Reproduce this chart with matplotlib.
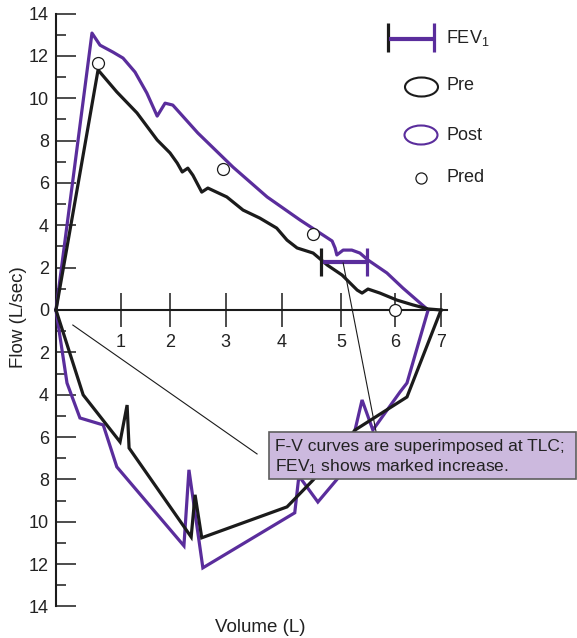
import numpy as np
import matplotlib
matplotlib.use("Agg")
import matplotlib.pyplot as plt
from matplotlib.patches import Ellipse, Rectangle
from matplotlib.lines import Line2D

plt.rcParams['font.family'] = ['Liberation Sans', 'DejaVu Sans']
plt.rcParams['mathtext.fontset'] = 'custom'
plt.rcParams['mathtext.rm'] = 'Liberation Sans'
plt.rcParams['mathtext.it'] = 'Liberation Sans:italic'
plt.rcParams['mathtext.bf'] = 'Liberation Sans:bold'

# ---------------- data ----------------
post_exp_vol = [0, 0.556, 0.68, 0.881, 1.047, 1.29, 1.53, 1.74, 1.90, 2.05, 2.50,
                3.13, 3.74, 4.31, 4.85, 4.90, 4.93, 5.04, 5.20, 5.35, 5.50, 5.85,
                6.17, 6.72]
post_exp_flow = [0, 13.08, 12.51, 12.18, 11.90, 11.24, 10.25, 9.16, 9.77, 9.68, 8.36,
                 6.75, 5.34, 4.25, 3.26, 2.93, 2.60, 2.83, 2.83, 2.69, 2.36, 1.75,
                 1.04, 0]
post_insp_vol = [6.72, 6.26, 6.11, 5.59, 5.39, 5.26, 4.98, 4.61, 4.29, 4.22, 2.59,
                 2.34, 2.25, 0.94, 0.73, 0.37, 0.17, 0.0]
post_insp_flow = [0, 3.45, 3.87, 5.67, 4.25, 5.67, 7.84, 9.07, 7.84, 9.58, 12.18,
                  7.55, 11.14, 7.41, 5.43, 5.10, 3.45, 0]

pre_exp_vol = [0, 0.65, 0.94, 1.33, 1.74, 2.0, 2.13, 2.22, 2.32, 2.41, 2.57, 2.68,
               3.02, 3.31, 3.61, 3.91, 4.09, 4.26, 4.53, 4.77, 5.02, 5.30, 5.39,
               5.50, 5.72, 6.04, 6.39, 6.72, 7.0]
pre_exp_flow = [0, 11.34, 10.30, 9.31, 8.03, 7.42, 6.94, 6.52, 6.70, 6.37, 5.57, 5.76,
                5.34, 4.72, 4.34, 3.87, 3.30, 2.93, 2.69, 2.12, 1.65, 0.94, 0.80,
                0.99, 0.80, 0.47, 0.24, 0.05, 0]
pre_insp_vol = [7.0, 6.26, 5.26, 4.53, 4.09, 2.57, 2.45, 2.38, 1.17, 1.13, 0.99, 0.42, 0]
pre_insp_flow = [0, 4.11, 5.67, 8.03, 9.30, 10.76, 8.73, 10.72, 6.52, 4.49, 6.23, 4.01, 0]

pred_vol = [0.65, 2.95, 4.53, 6.0]
pred_flow = [11.66, 6.66, 3.59, 0.0]

fev1_pre = 4.67
fev1_post = 5.49

x_ticks = [1, 2, 3, 4, 5, 6, 7]
y_ticks = [-14, -12, -10, -8, -6, -4, -2, 0, 2, 4, 6, 8, 10, 12, 14]
y_minor = [-13, -11, -9, -7, -5, -3, -1, 1, 3, 5, 7, 9, 11, 13]
y_tick_labels = [str(abs(v)) for v in y_ticks]

legend_labels = ["FEV$_1$", "Pre", "Post", "Pred"]
note_lines = ["F-V curves are superimposed at TLC;", "FEV$_1$ shows marked increase."]

# ---------------- style ----------------
PURPLE = '#5a2d9c'
BLACK = '#1b1b1b'
TXT = '#222222'
W, H = 577, 638

# hand-drawn volume axis: tick positions (figure px) of volumes 0..7
XT = np.arange(8, dtype=float)
XP = np.array([56, 120.7, 170, 225.7, 281.7, 341, 395, 441])


def fwd(v):
    v = np.asarray(v, dtype=float)
    out = np.interp(v, XT, XP)
    out = np.where(v < 0, XP[0] + v * (XP[1] - XP[0]), out)
    out = np.where(v > 7, XP[-1] + (v - 7) * (XP[-1] - XP[-2]), out)
    return out


def inv(p):
    p = np.asarray(p, dtype=float)
    out = np.interp(p, XP, XT)
    out = np.where(p < XP[0], (p - XP[0]) / (XP[1] - XP[0]), out)
    out = np.where(p > XP[-1], 7 + (p - XP[-1]) / (XP[-1] - XP[-2]), out)
    return out


fig = plt.figure(figsize=(W / 100, H / 100), dpi=100)
fig.patch.set_facecolor('white')
ax = fig.add_axes([0, 0, 1, 1])
ax.set_facecolor('white')
ax.set_xscale('function', functions=(fwd, inv))
ax.set_xlim(float(inv(0)), float(inv(W)))
ax.set_ylim(-328 / 21.17, 310 / 21.17)


def neg(a):
    return [-v for v in a]


lw = 2.3
ax.plot(post_exp_vol, post_exp_flow, color=PURPLE, lw=lw, solid_joinstyle='round', zorder=3)
ax.plot(post_insp_vol, neg(post_insp_flow), color=PURPLE, lw=lw, solid_joinstyle='miter', zorder=3)
ax.plot(pre_exp_vol, pre_exp_flow, color=BLACK, lw=lw, solid_joinstyle='round', zorder=4)
ax.plot(pre_insp_vol, neg(pre_insp_flow), color=BLACK, lw=lw, solid_joinstyle='miter', zorder=4)

ax.plot(pred_vol, pred_flow, 'o', ms=8.6, mfc='white', mec=BLACK, mew=0.9, zorder=6, clip_on=False)

# FEV1 markers
bar_y, bar_h = 2.27, 0.65
ax.plot([fev1_pre, fev1_post], [bar_y, bar_y], color=PURPLE, lw=3.0, solid_capstyle='butt', zorder=5)
ax.plot([fev1_pre, fev1_pre], [bar_y - bar_h, bar_y + bar_h], color=BLACK, lw=2.3, solid_capstyle='butt', zorder=5)
ax.plot([fev1_post, fev1_post], [bar_y - bar_h, bar_y + bar_h], color=PURPLE, lw=2.3, solid_capstyle='butt', zorder=5)

# axes
for s in ['top', 'right']:
    ax.spines[s].set_visible(False)
ax.spines['left'].set_position(('data', 0))
ax.spines['bottom'].set_position(('data', 0))
ax.spines['left'].set_bounds(-14, 14)
ax.spines['bottom'].set_bounds(0, 7.13)
for s in ['left', 'bottom']:
    ax.spines[s].set_linewidth(1.5)
    ax.spines[s].set_color(BLACK)
    ax.spines[s].set_zorder(2)

ax.set_xticks(x_ticks)
ax.set_xticklabels([str(v) for v in x_ticks])
ax.set_xticks([], minor=True)
ax.set_yticks(y_ticks)
ax.set_yticklabels(y_tick_labels)
ax.set_yticks(y_minor, minor=True)
ax.tick_params(axis='x', which='major', direction='inout', length=25, width=1.1,
               color=BLACK, labelsize=13, labelcolor=TXT, pad=4.5)
ax.tick_params(axis='y', which='major', direction='in', length=14.5, width=1.1,
               color=BLACK, labelsize=13, labelcolor=TXT, pad=5)
ax.tick_params(axis='y', which='minor', direction='in', length=7.2, width=1.1, color=BLACK)

ax.set_xlabel("Volume (L)", fontsize=13.5, color=TXT)
ax.xaxis.set_label_coords(260 / W, 1 - 628 / H)
ax.xaxis.label.set_va('center')
ax.set_ylabel("Flow (L/sec)", fontsize=13.5, color=TXT)
ax.yaxis.set_label_coords(19 / W, 1 - 317 / H)
ax.yaxis.label.set_va('center')


def fx(px):
    return px / W


def fy(py):
    return 1 - py / H


T = ax.transAxes
# legend
ax.add_line(Line2D([fx(388), fx(388)], [fy(23), fy(52)], transform=T, color=BLACK, lw=2.3, solid_capstyle='butt'))
ax.add_line(Line2D([fx(389), fx(434)], [fy(38.5), fy(38.5)], transform=T, color=PURPLE, lw=3.0, solid_capstyle='butt'))
ax.add_line(Line2D([fx(434), fx(434)], [fy(23), fy(52)], transform=T, color=PURPLE, lw=2.3, solid_capstyle='butt'))
ax.add_patch(Ellipse((fx(421.5), fy(87)), 33 / W, 19 / H, transform=T, fill=False, ec=BLACK, lw=1.5))
ax.add_patch(Ellipse((fx(421), fy(135)), 33 / W, 19 / H, transform=T, fill=False, ec=PURPLE, lw=1.5))
ax.add_line(Line2D([fx(421)], [fy(177.5)], transform=T, marker='o', ms=8.0, mfc='white', mec=BLACK, mew=0.9, ls='none'))
for lab, py in zip(legend_labels, [38, 86, 135, 177]):
    ax.text(fx(446), fy(py), lab, transform=T, fontsize=13, color=TXT, ha='left', va='center')

# annotation leader lines
ax.plot([0.26, 3.56], [-0.71, -6.80], color=BLACK, lw=0.8, zorder=7)
ax.plot([5.04, 5.65], [2.22, -5.76], color=BLACK, lw=0.8, zorder=7)

# note box
ax.add_patch(Rectangle((fx(269), fy(479)), (576 - 269) / W, 47 / H, transform=T,
                       fc='#ccb9de', ec='#5e5e5e', lw=1.2, zorder=8))
ax.text(fx(275), fy(447), note_lines[0], transform=T, fontsize=12.5, color=TXT,
        ha='left', va='center', zorder=9)
ax.text(fx(275), fy(467), note_lines[1], transform=T, fontsize=12.5, color=TXT,
        ha='left', va='center', zorder=9)

fig.savefig("out.png", dpi=100, facecolor='white')
